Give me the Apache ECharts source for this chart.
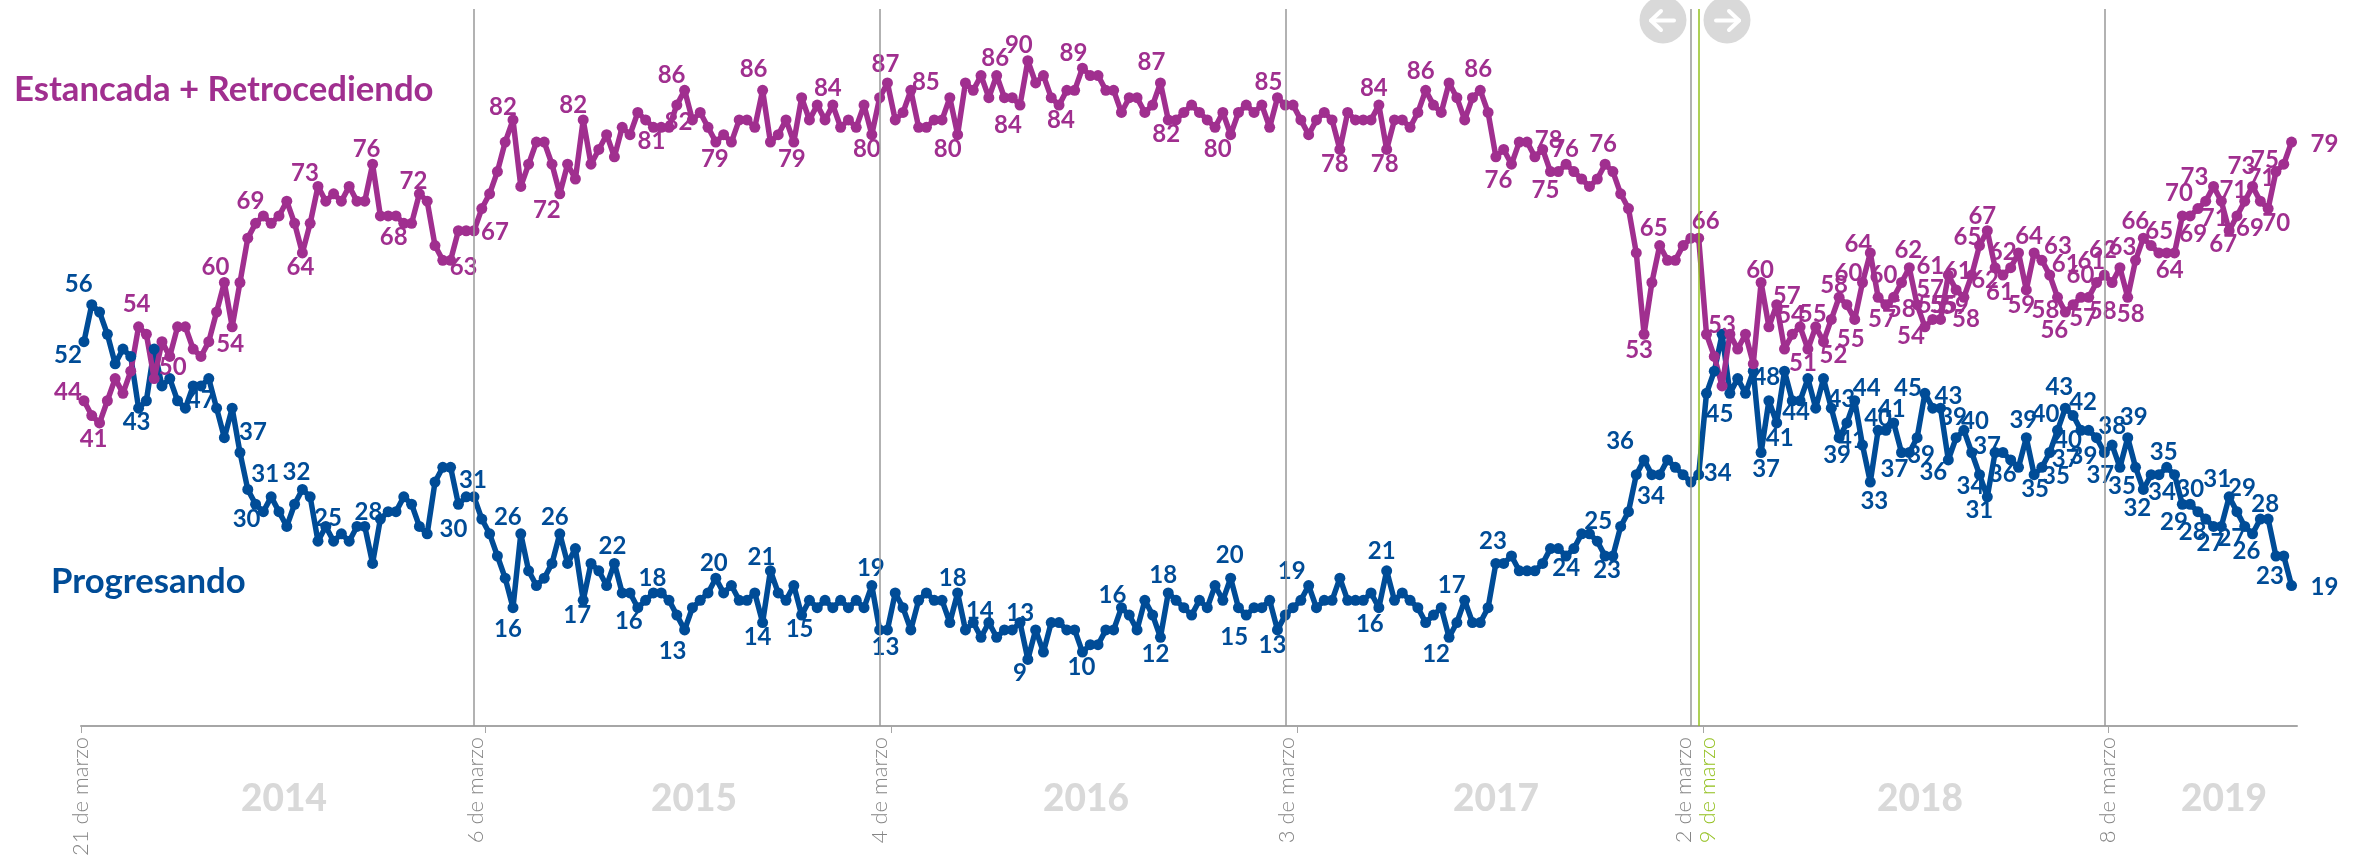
<!DOCTYPE html>
<html>
<head>
<meta charset="utf-8">
<title>Estancada + Retrocediendo / Progresando</title>
<script src="https://cdn.jsdelivr.net/npm/echarts@6/dist/echarts.min.js"></script>
<style>
  html, body { margin: 0; padding: 0; background: #fff; }
  #chart { width: 2369px; height: 856px; }
</style>
</head>
<body>
<div id="chart"></div>
<script>
// weekly values, week 0 = 21 de marzo 2014
const estancada = [
  44,42,41,44,47,45,48,54,53,47, 52,50,54,54,51,50,52,56,60,54,
  60,66,68,69,68,69,71,68,64,68, 73,71,72,71,73,71,71,76,69,69,
  69,68,68,72,71,65,63,63,67,67, 67,70,72,75,79,82,73,76,79,79,
  76,72,76,74,82,76,78,80,77,81, 80,83,82,81,81,81,84,86,82,83,
  81,79,80,79,82,82,81,86,79,80, 82,79,85,82,84,82,84,81,82,81,
  84,80,85,87,82,83,86,81,81,82, 82,85,80,87,86,88,85,88,85,85,
  84,90,87,88,85,84,86,86,89,88, 88,86,86,83,85,85,83,84,87,82,
  82,83,84,83,82,81,83,80,83,84, 83,84,81,85,84,84,82,80,82,83,
  82,78,83,82,82,82,84,78,82,82, 81,83,86,84,83,87,85,82,85,86,
  83,77,78,76,79,79,77,78,75,75, 76,75,74,73,74,76,75,72,70,64,
  53,60,65,63,63,65,66,66,53,50, 46,53,51,53,49,60,54,57,51,53,
  54,51,54,52,55,58,57,55,60,64, 58,57,58,60,62,57,54,55,55,61,
  59,58,61,65,67,62,61,62,64,59, 64,63,61,58,56,57,58,58,60,61,
  60,62,58,63,66,65,64,64,64,69, 69,70,71,73,71,67,69,71,73,71,
  70,75,76,79
]

const progresando = [
  52,57,56,53,49,51,50,43,44,51, 46,47,44,43,46,46,47,43,39,43,
  37,32,30,29,31,29,27,30,32,31, 25,27,25,26,25,27,27,22,28,29,
  29,31,30,27,26,33,35,35,30,31, 31,28,26,23,20,16,26,21,19,20,
  22,26,22,24,17,22,21,19,22,18, 18,16,17,18,18,17,15,13,16,17,
  18,20,18,19,17,17,18,14,21,18, 17,19,15,17,16,17,16,17,16,17,
  16,19,13,13,18,16,13,17,18,17, 17,14,18,13,14,12,14,12,13,13,
  14,9,13,10,14,14,13,13,10,11, 11,13,13,16,15,13,17,15,12,18,
  17,16,15,17,16,19,17,20,16,15, 16,16,17,13,15,16,17,19,16,17,
  17,20,17,17,17,18,16,21,17,18, 17,16,14,15,16,12,14,17,14,14,
  16,22,22,23,21,21,21,22,24,24, 23,24,26,26,25,23,23,27,29,34,
  36,34,34,36,35,34,33,34,45,48, 53,45,47,45,48,37,44,41,48,44,
  44,47,43,47,43,39,41,44,38,33, 40,40,41,37,37,39,45,43,43,36,
  39,40,37,34,31,37,37,36,35,39, 34,35,37,40,43,42,40,40,39,37,
  38,35,39,35,32,34,34,35,34,30, 30,29,28,27,27,31,29,27,26,28,
  28,23,23,19
]

const dateLabels = ['21 de marzo', '6 de marzo', '4 de marzo', '3 de marzo', '2 de marzo', '9 de marzo', '8 de marzo']
const dateLabelWeeks = [-0.38, 50.2, 102, 154.2, 205.1, 208.2, 259.5]
const lineWeeks = [50, 102, 154, 206, 259]
const greenLineWeek = 207
const tickWeeks = [-0.38, 51.5, 103.5, 155.5, 207.6, 259.5]
const years = ['2014', '2015', '2016', '2017', '2018', '2019']
const yearCenters = [284, 694, 1086, 1496, 1920, 2224]

// which points carry a number: [week, dx, dy, text if it differs from the value]
const estancadaLabels = [
  [0,-16,-8],[2,-6,16],[7,-2,-23],[11,3,11],[18,-9,-15],[19,-2,17],[23,-13,-15],[28,-2,14],[30,-13,-13],
  [37,-6,-15],[41,-10,14],[43,-6,-13],[47,13,7],[50,21,2],[55,-10,-13],[61,-13,16],[64,-10,-15],
  [73,-2,14],[77,-13,-15],[78,-14,2],[81,-1,17],[87,-9,-21],[91,-2,17],[96,-5,-17],[101,-5,15],
  [103,-2,-19],[106,15,-8,'85'],[112,-10,15],[114,22,-32],[120,-12,20],[121,-9,-15],[125,2,15],[128,-9,-15],
  [138,-9,-21],[139,-2,14],[147,-13,15],[153,-9,-15],[161,-5,15],[166,-5,-17],[167,-2,15],[172,-5,-19],
  [179,-2,-21],[183,-13,16],[187,6,-9],[188,-5,19],[190,-1,-15],[195,-2,-20],[200,-5,16],[202,-6,-17],
  [207,7,-17],[211,-8,-9],[215,-1,-12],[217,10,-8],[220,-9,-12],[221,-5,14],[222,-3,-13,'55'],[223,10,14],
  [225,-5,-12],[227,-4,20],[228,-14,-9],[229,-12,-9],[231,-4,15],[232,8,12],[233,-18,-7],[234,-1,-17],
  [235,13,-15],[236,-14,9],[237,-1,-14],[238,3,-14],[239,-18,-9],[240,-1,16],[241,2,22],[242,-14,-4],
  [243,-12,-8],[244,-5,-14],[245,-10,13],[246,-3,17],[247,-8,-15],[249,-5,15],[250,-5,-17],[251,16,-14],
  [252,16,-11],[253,-12,13],[254,-11,18],[255,10,14],[257,14,14],[258,-16,-7],[259,-13,-14],[261,-17,-17],
  [262,3,17],[263,-13,-13],[264,-8,-17],[265,8,-14],[267,3,17],[270,3,18],[271,-19,-15],[272,9,17],
  [273,-19,-9],[274,12,-11],[275,-6,14],[276,13,12],[278,-11,-20],[279,1,-23],[280,8,15],[281,-11,-11],[283,33,2]
]

const progresandoLabels = [
  [0,-16,14],[1,-13,-20,'56'],[7,-2,14],[16,-8,22],[20,13,-20],[22,-9,15],[24,-6,-23],[28,-6,-17],[30,10,-23],
  [38,-12,-7],[48,-5,25],[50,-1,-17],[55,-5,22],[56,-13,-17],[61,-5,-17],[64,-6,15],[68,-2,-17],[71,-9,14],
  [73,-1,-15],[77,-12,21],[81,-2,-15],[87,-5,15],[88,-9,-14],[92,-2,14],[101,-1,-17],[103,-2,17],[112,-5,-15],
  [116,-9,-11],[119,8,-17],[121,-8,14],[128,-1,15],[133,-9,-12],[138,-5,17],[139,-5,-18],[147,-1,-23],
  [149,-12,22],[153,-5,15],[157,-17,-14],[166,-9,17],[167,-5,-20],[175,-13,17],[177,-13,-15],
  [181,-3,-22,'23'],[189,8,20],[194,1,-20],[195,2,14],[200,-24,-19],[201,-1,22],[207,19,-1],[208,13,21],
  [214,13,6],[215,5,17],[217,3,15],[220,-4,12],[224,10,-9],[225,-2,18],[226,5,17],[227,12,-12],[229,4,19],
  [230,0,-12],[232,-2,-14],[233,-7,17],[235,4,18],[236,-17,-5],[238,8,-12],[239,-15,12],[240,-3,-20],
  [241,11,-9],[243,-9,12],[244,-8,13],[245,-8,-6],[247,-8,14],[249,-3,-17],[250,1,15,'35'],[251,14,9],
  [252,16,7],[253,-12,-16],[254,-6,-21],[255,10,-13],[256,-13,10],[258,-13,19],[259,-4,23],[260,0,-19],
  [261,2,19],[262,6,-20],[264,-6,19],[266,3,18],[267,-3,-15],[270,0,-15],[271,-24,11],[272,-13,13],
  [273,-3,17],[274,10,12],[275,-12,-18],[276,5,-23],[278,-6,17],[280,-3,-15],[281,-6,20],[283,33,2]
]

const colorEstancada = '#a02f8f'
const colorProgresando = '#004c97'
const colorLine = '#a6a6a6'
const colorGreen = '#93c01f'
const colorYear = '#d9d9d9'

const labelsByWeek = labels => {
  const byWeek = {}
  labels.forEach(l => { byWeek[l[0]] = l })
  return byWeek
}

// 构建折线数据，带标签的点单独配置
const buildSeriesData = (values, byWeek, color) => values.map((v, week) => {
  const l = byWeek[week]
  if (!l) return [week, v]
  return {
    value: [week, v],
    label: {
      show: true,
      position: 'inside',
      formatter: l[3] || String(v),
      color,
      fontFamily: 'Lato',
      fontWeight: 700,
      fontSize: 24
    }
  }
})

const lineSeries = (name, values, labels, color) => {
  const byWeek = labelsByWeek(labels)
  return {
    name,
    type: 'line',
    data: buildSeriesData(values, byWeek, color),
    symbol: 'circle',
    symbolSize: 11,
    showSymbol: true,
    showAllSymbol: true,
    lineStyle: { color, width: 5.5 },
    itemStyle: { color },
    label: { show: false },
    labelLayout: params => {
      const l = byWeek[params.dataIndex]
      return l ? { dx: l[1], dy: l[2] } : {}
    },
    z: 3
  }
}

const arrowButton = (cx, dir) => ({
  type: 'group',
  children: [
    { type: 'circle', shape: { cx, cy: 20, r: 23.5 }, style: { fill: colorYear } },
    {
      type: 'polyline',
      shape: { points: [[cx - 11 * dir, 20.5], [cx + 12 * dir, 20.5]] },
      style: { stroke: '#fff', lineWidth: 4, fill: null, lineCap: 'round' }
    },
    {
      type: 'polyline',
      shape: { points: [[cx + 2 * dir, 11], [cx + 12 * dir, 20.5], [cx + 2 * dir, 30]] },
      style: { stroke: '#fff', lineWidth: 4, fill: null, lineCap: 'round', lineJoin: 'round' }
    }
  ]
})

const chart = echarts.init(document.getElementById('chart'))

chart.setOption({
  animation: false,
  backgroundColor: '#fff',
  grid: { left: 81, width: 2216, top: 9, bottom: 130, outerBoundsMode: 'none' },
  xAxis: {
    type: 'value',
    min: -0.38,
    max: 283.7,
    splitLine: { show: false },
    axisLine: { lineStyle: { color: colorLine, width: 2 } },
    axisTick: { show: true, length: 7, lineStyle: { color: colorLine, width: 1 }, customValues: tickWeeks },
    axisLabel: {
      customValues: dateLabelWeeks,
      showMinLabel: true,
      showMaxLabel: true,
      rotate: 90,
      margin: 11,
      fontFamily: 'Lato',
      fontWeight: 300,
      fontSize: 22,
      color: value => dateLabels[dateLabelWeeks.indexOf(Number(value))] === '9 de marzo' ? colorGreen : '#858585',
      formatter: value => dateLabels[dateLabelWeeks.indexOf(value)]
    }
  },
  yAxis: { type: 'value', min: 0, max: 97, show: false },
  series: [
    {
      // 年份分隔线
      type: 'line',
      data: [],
      markLine: {
        silent: true,
        symbol: 'none',
        label: { show: false },
        animation: false,
        data: lineWeeks.map(w => ({ xAxis: w, lineStyle: { color: '#999', width: 1.5, type: 'solid' } }))
          .concat([{ xAxis: greenLineWeek, lineStyle: { color: colorGreen, width: 1.5, type: 'solid' } }])
      },
      z: 1
    },
    lineSeries('Progresando', progresando, progresandoLabels, colorProgresando),
    lineSeries('Estancada + Retrocediendo', estancada, estancadaLabels, colorEstancada)
  ],
  graphic: [
    {
      type: 'text', left: 14, top: 72,
      style: { text: 'Estancada + Retrocediendo', fill: colorEstancada, font: '700 34.7px Lato' }
    },
    {
      type: 'text', left: 51, top: 564,
      style: { text: 'Progresando', fill: colorProgresando, font: '700 34.7px Lato' }
    },
    ...years.map((year, i) => ({
      type: 'text',
      x: yearCenters[i],
      y: 799,
      style: { text: year, fill: colorYear, font: '900 37px Lato', align: 'center', verticalAlign: 'middle' }
    })),
    arrowButton(1663, -1),
    arrowButton(1727, 1)
  ]
})

window.addEventListener('resize', () => chart.resize())
</script>
</body>
</html>
